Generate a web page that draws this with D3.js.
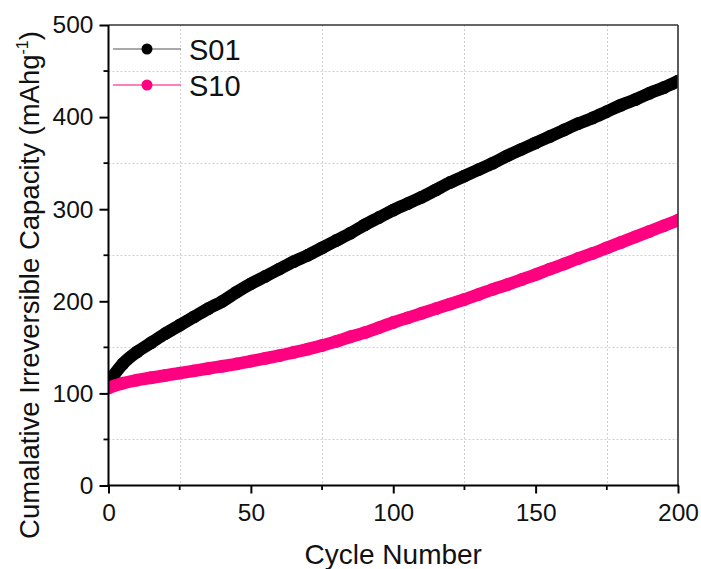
<!DOCTYPE html>
<html>
<head>
<meta charset="utf-8">
<script src="https://cdn.jsdelivr.net/npm/d3@7"></script>
<style>
  html, body { margin: 0; padding: 0; background: #fff; }
  svg { display: block; font-family: "Liberation Sans", Arial, sans-serif; }
</style>
</head>
<body>
<svg id="chart" width="701" height="569"></svg>
<script>
// ---- data ----
const cycles = [0,5,10,15,20,25,30,35,40,45,50,55,60,65,70,75,80,85,90,95,100,
                105,110,115,120,125,130,135,140,145,150,155,160,165,170,175,180,185,190,195,200];
const s01 = [112,132,145,155,165,174,183,192,200,210,219,227,235,243,250,258,266,274,283,291,299,
             306,313,321,329,336,343,350,358,365,372,379,386,393,399,406,413,419,426,432,439];
const s10 = [106,111,114.5,117,119.5,122,124.5,127,129.5,132,135,138,141,144.5,148,152,156.5,161.5,166,171.5,177,
             182,187,192,197,202,207.5,213,218,223.5,229,235,240.5,246.5,252,258,264,270,276,282,288];
const seriesNames = ["S01", "S10"];
const seriesColors = ["#000000", "#ff0080"];
const legendLineColors = ["#555555", "#ff0080"];
const xTicks = [0, 50, 100, 150, 200];
const xMinor = [25, 75, 125, 175];
const yTicks = [0, 100, 200, 300, 400, 500];
const yMinor = [50, 150, 250, 350, 450];

// ---- layout ----
const svg = d3.select("#chart");
const L = 108.5, R = 678, T = 25, B = 485.5;
const x = d3.scaleLinear().domain([0, 200]).range([L, R]);
const y = d3.scaleLinear().domain([0, 500]).range([B, T]);

// grid (minor positions only, dotted)
const grid = svg.append("g").attr("stroke", "#d0d0d0").attr("stroke-width", 1).attr("stroke-dasharray", "2,2");
grid.selectAll("line.vx").data(xMinor).join("line")
  .attr("x1", d => Math.round(x(d)) + 0.5).attr("x2", d => Math.round(x(d)) + 0.5)
  .attr("y1", T).attr("y2", B);
grid.selectAll("line.hy").data(yMinor).join("line")
  .attr("x1", L).attr("x2", R)
  .attr("y1", d => Math.round(y(d)) + 0.5).attr("y2", d => Math.round(y(d)) + 0.5);

// clip
svg.append("clipPath").attr("id", "plotclip").append("rect")
  .attr("x", L).attr("y", T).attr("width", R - L).attr("height", B - T);

const plot = svg.append("g").attr("clip-path", "url(#plotclip)");
const line = d3.line().x((d, i) => x(cycles[i])).y(d => y(d)).curve(d3.curveMonotoneX);

[s01, s10].forEach((vals, k) => {
  plot.append("path").datum(vals)
    .attr("d", line).attr("fill", "none")
    .attr("stroke", seriesColors[k]).attr("stroke-width", 12.5)
    .attr("stroke-linecap", "round").attr("stroke-linejoin", "round");
  plot.selectAll("circle.s" + k).data(vals).join("circle")
    .attr("cx", (d, i) => x(cycles[i])).attr("cy", d => y(d)).attr("r", 6.4)
    .attr("fill", seriesColors[k]);
});

// frame top/right
svg.append("line").attr("x1", L).attr("x2", R).attr("y1", T).attr("y2", T)
  .attr("stroke", "#333").attr("stroke-width", 1.6);
svg.append("line").attr("x1", R).attr("x2", R).attr("y1", T).attr("y2", B)
  .attr("stroke", "#333").attr("stroke-width", 1.6);

// axes
const xAxis = d3.axisBottom(x).tickValues(xTicks).tickSize(8).tickPadding(10).tickFormat(d3.format("d"));
const gx = svg.append("g").attr("transform", `translate(0,${B})`).call(xAxis);
gx.select(".domain").attr("stroke", "#000").attr("stroke-width", 2).attr("d", `M${L - 1},0H${R + 1}`);
gx.selectAll(".tick line").attr("stroke", "#000").attr("stroke-width", 2);
gx.selectAll(".tick text").attr("font-size", 24.5).attr("fill", "#111")
  .attr("font-family", "Liberation Sans, Arial, sans-serif");
svg.append("g").selectAll("line").data(xMinor).join("line")
  .attr("x1", d => x(d)).attr("x2", d => x(d)).attr("y1", B).attr("y2", B + 4.5)
  .attr("stroke", "#000").attr("stroke-width", 1.8);

const yAxis = d3.axisLeft(y).tickValues(yTicks).tickSize(9).tickPadding(6).tickFormat(d3.format("d"));
const gy = svg.append("g").attr("transform", `translate(${L},0)`).call(yAxis);
gy.select(".domain").attr("stroke", "#000").attr("stroke-width", 2).attr("d", `M0,${T}V${B + 1}`);
gy.selectAll(".tick line").attr("stroke", "#000").attr("stroke-width", 2);
gy.selectAll(".tick text").attr("font-size", 24.5).attr("fill", "#111")
  .attr("font-family", "Liberation Sans, Arial, sans-serif");
svg.append("g").selectAll("line").data(yMinor).join("line")
  .attr("x1", L - 5).attr("x2", L).attr("y1", d => y(d)).attr("y2", d => y(d))
  .attr("stroke", "#000").attr("stroke-width", 1.8);

// axis titles
svg.append("text").attr("x", (L + R) / 2).attr("y", 564).attr("text-anchor", "middle")
  .attr("font-size", 28).attr("fill", "#111").text("Cycle Number");
const yt = svg.append("text").attr("transform", "translate(39,285) rotate(-90)")
  .attr("text-anchor", "middle").attr("font-size", 27.5).attr("fill", "#111");
yt.append("tspan").text("Cumalative Irreversible Capacity (mAhg");
yt.append("tspan").attr("font-size", 16).attr("dy", -11).text("-1");
yt.append("tspan").attr("dy", 11).text(")");

// legend
const legY = [49, 85];
seriesNames.forEach((name, k) => {
  const g = svg.append("g");
  g.append("line").attr("x1", 113).attr("x2", 181).attr("y1", legY[k]).attr("y2", legY[k])
    .attr("stroke", legendLineColors[k]).attr("stroke-width", 1.2);
  g.append("circle").attr("cx", 147).attr("cy", legY[k]).attr("r", 5.5).attr("fill", seriesColors[k]);
  g.append("text").attr("x", 189).attr("y", legY[k] + 10.5).attr("font-size", 29).attr("fill", "#111").text(name);
});
</script>
</body>
</html>
